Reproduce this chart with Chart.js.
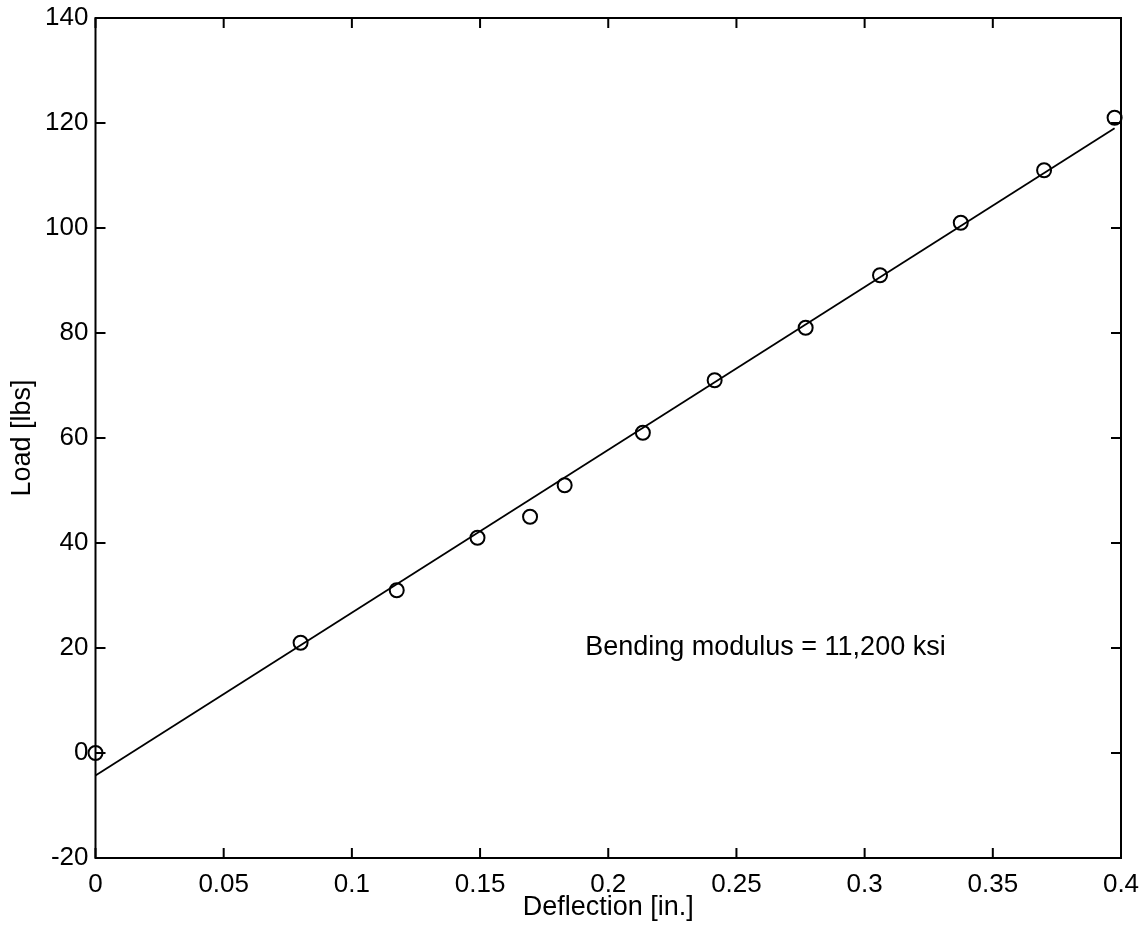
<!DOCTYPE html>
<html><head><meta charset="utf-8">
<script src="https://cdn.jsdelivr.net/npm/chart.js@4/dist/chart.umd.min.js"></script>
<style>html,body{margin:0;padding:0;background:#fff}#wrap{width:1148px;height:932px}</style>
</head><body><div id="wrap"><canvas id="c" width="1148" height="932"></canvas></div>
<script>
// ---- data ----
const deflection = [0, 0.080, 0.1175, 0.149, 0.1695, 0.183, 0.2135, 0.2415, 0.277, 0.306, 0.3375, 0.37, 0.3975];
const load = [0, 21, 31, 41, 45, 51, 61, 71, 81, 91, 101, 111, 121];
const fitDeflection = [0, 0.3975];
const fitLoad = [-4.3, 119];
const xTickValues = [0, 0.05, 0.1, 0.15, 0.2, 0.25, 0.3, 0.35, 0.4];
const xTickLabels = ['0', '0.05', '0.1', '0.15', '0.2', '0.25', '0.3', '0.35', '0.4'];
const yTickValues = [-20, 0, 20, 40, 60, 80, 100, 120, 140];
const yTickLabels = ['-20', '0', '20', '40', '60', '80', '100', '120', '140'];
const xTitle = 'Deflection [in.]';
const yTitle = 'Load [lbs]';
const noteText = 'Bending modulus = 11,200 ksi';

const FONT = "'Liberation Sans', Arial, Helvetica, sans-serif";
const FS = 26;
const FT = 27;

const framePlugin = {
  id: 'frame',
  beforeDatasetsDraw(chart) {
    const ctx = chart.ctx, a = chart.chartArea;
    const xs = chart.scales.x, ys = chart.scales.y;
    ctx.save();
    ctx.strokeStyle = '#000';
    ctx.lineWidth = 2;
    ctx.strokeRect(a.left, a.top, a.right - a.left, a.bottom - a.top);
    const L = 10;
    ctx.beginPath();
    xTickValues.forEach(v => {
      const p = xs.getPixelForValue(v);
      ctx.moveTo(p, a.bottom); ctx.lineTo(p, a.bottom - L);
      ctx.moveTo(p, a.top); ctx.lineTo(p, a.top + L);
    });
    yTickValues.forEach(v => {
      const p = ys.getPixelForValue(v);
      ctx.moveTo(a.left, p); ctx.lineTo(a.left + L, p);
      ctx.moveTo(a.right, p); ctx.lineTo(a.right - L, p);
    });
    ctx.stroke();
    // annotation
    ctx.fillStyle = '#000';
    ctx.font = FT + 'px ' + FONT;
    ctx.textAlign = 'left';
    ctx.textBaseline = 'alphabetic';
    ctx.fillText(noteText, xs.getPixelForValue(0.191), ys.getPixelForValue(18.6));
    ctx.restore();
  }
};

new Chart(document.getElementById('c'), {
  type: 'scatter',
  data: {
    datasets: [
      {
        label: 'measured',
        data: deflection.map((x, i) => ({ x: x, y: load[i] })),
        pointStyle: 'circle',
        pointRadius: 7,
        pointBorderWidth: 2,
        pointBorderColor: '#000',
        pointBackgroundColor: 'rgba(0,0,0,0)',
        showLine: false,
        clip: false
      },
      {
        label: 'fit',
        data: fitDeflection.map((x, i) => ({ x: x, y: fitLoad[i] })),
        showLine: true,
        borderColor: '#000',
        borderWidth: 1.8,
        pointRadius: 0,
        fill: false
      }
    ]
  },
  options: {
    responsive: false,
    animation: false,
    devicePixelRatio: 1,
    layout: { padding: { left: 0, right: 27, top: 18, bottom: 0 } },
    plugins: { legend: { display: false }, tooltip: { enabled: false } },
    scales: {
      x: {
        type: 'linear', min: 0, max: 0.4,
        afterBuildTicks: s => { s.ticks = xTickValues.map(v => ({ value: v })); },
        afterFit: s => { s.height = 74; s.paddingLeft = 0; s.paddingRight = 0; },
        grid: { display: false, drawTicks: false },
        border: { display: false },
        ticks: {
          color: '#000', padding: 11,
          font: { family: FONT, size: FS },
          callback: (v, i) => xTickLabels[i],
          maxRotation: 0, autoSkip: false
        },
        title: { display: true, text: xTitle, color: '#000', font: { family: FONT, size: FT }, padding: { top: 0, bottom: 8 } }
      },
      y: {
        type: 'linear', min: -20, max: 140,
        afterBuildTicks: s => { s.ticks = yTickValues.map(v => ({ value: v })); },
        afterFit: s => { s.width = 95.5; s.paddingTop = 0; s.paddingBottom = 0; },
        grid: { display: false, drawTicks: false },
        border: { display: false },
        ticks: {
          color: '#000', padding: 7,
          font: { family: FONT, size: FS },
          callback: (v, i) => yTickLabels[i],
          autoSkip: false
        },
        title: { display: true, text: yTitle, color: '#000', font: { family: FONT, size: FT }, padding: { top: 6, bottom: 0 } }
      }
    }
  },
  plugins: [framePlugin]
});
</script></body></html>
